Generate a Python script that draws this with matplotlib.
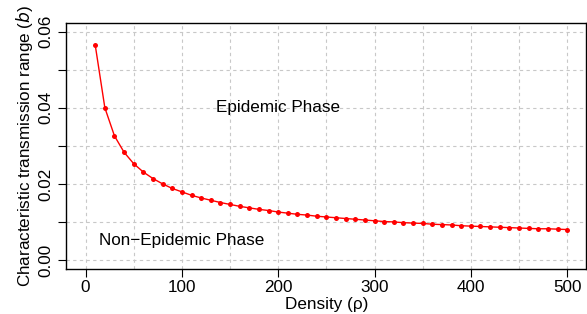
import matplotlib
matplotlib.use("Agg")
import matplotlib.pyplot as plt
from matplotlib.ticker import MultipleLocator, FixedLocator

plt.rcParams["font.family"] = ["Liberation Sans", "DejaVu Sans"]

# ---------- data -------------------------------------------------------------
density = [10, 20, 30, 40, 50, 60, 70, 80, 90, 100,
           110, 120, 130, 140, 150, 160, 170, 180, 190, 200,
           210, 220, 230, 240, 250, 260, 270, 280, 290, 300,
           310, 320, 330, 340, 350, 360, 370, 380, 390, 400,
           410, 420, 430, 440, 450, 460, 470, 480, 490, 500]
b_range = [0.0565, 0.0400, 0.0326, 0.0283, 0.0253, 0.0231, 0.0214, 0.0200, 0.0188, 0.0179,
           0.0170, 0.0163, 0.0157, 0.0151, 0.0146, 0.0141, 0.0137, 0.0133, 0.0130, 0.0126,
           0.0123, 0.0120, 0.0118, 0.0115, 0.0113, 0.0111, 0.0109, 0.0107, 0.0105, 0.0103,
           0.0101, 0.0100, 0.0098, 0.0097, 0.0096, 0.0094, 0.0093, 0.0092, 0.0090, 0.0089,
           0.0088, 0.0087, 0.0086, 0.0085, 0.0084, 0.0083, 0.0082, 0.0082, 0.0081, 0.0080]

x_ticks = [0, 100, 200, 300, 400, 500]
y_ticks = [0.00, 0.01, 0.02, 0.03, 0.04, 0.05, 0.06]
y_labels = ["0.00", "", "0.02", "", "0.04", "", "0.06"]

FS = 12.3

# ---------- figure -----------------------------------------------------------
fig = plt.figure(figsize=(5.87, 3.14), dpi=100)
ax = fig.add_axes([0.113, 0.143, 0.886, 0.785])

ax.plot(density, b_range, color="red", lw=1.0, marker="o", ms=3.6,
        markeredgewidth=0, zorder=3)

ax.set_xlim(-20, 520)
ax.set_ylim(-0.0024, 0.0624)

ax.xaxis.set_major_locator(FixedLocator(x_ticks))
ax.xaxis.set_minor_locator(MultipleLocator(50))
ax.set_yticks(y_ticks)
ax.set_yticklabels(y_labels, rotation=90, va="center")

ax.tick_params(axis="both", which="major", direction="out", length=6,
               width=0.8, labelsize=FS, color="black")
ax.tick_params(axis="x", which="minor", length=0)
ax.tick_params(axis="y", pad=3)
ax.tick_params(axis="x", pad=2)

ax.grid(True, which="both", color="#c8c8c8", linestyle=(0, (3, 3)), lw=0.8)
for s in ax.spines.values():
    s.set_linewidth(1.0)

ax.text(200, 0.040, "Epidemic Phase", ha="center", va="center", fontsize=FS)
ax.text(100, 0.0052, "Non\u2212Epidemic Phase", ha="center", va="center", fontsize=FS)

ax.set_xlabel("Density (\u03c1)", fontsize=FS, labelpad=1)
ax.set_ylabel("Characteristic transmission range ($\\it{b}$)", fontsize=FS, labelpad=3)

fig.savefig("out.png", dpi=100)
